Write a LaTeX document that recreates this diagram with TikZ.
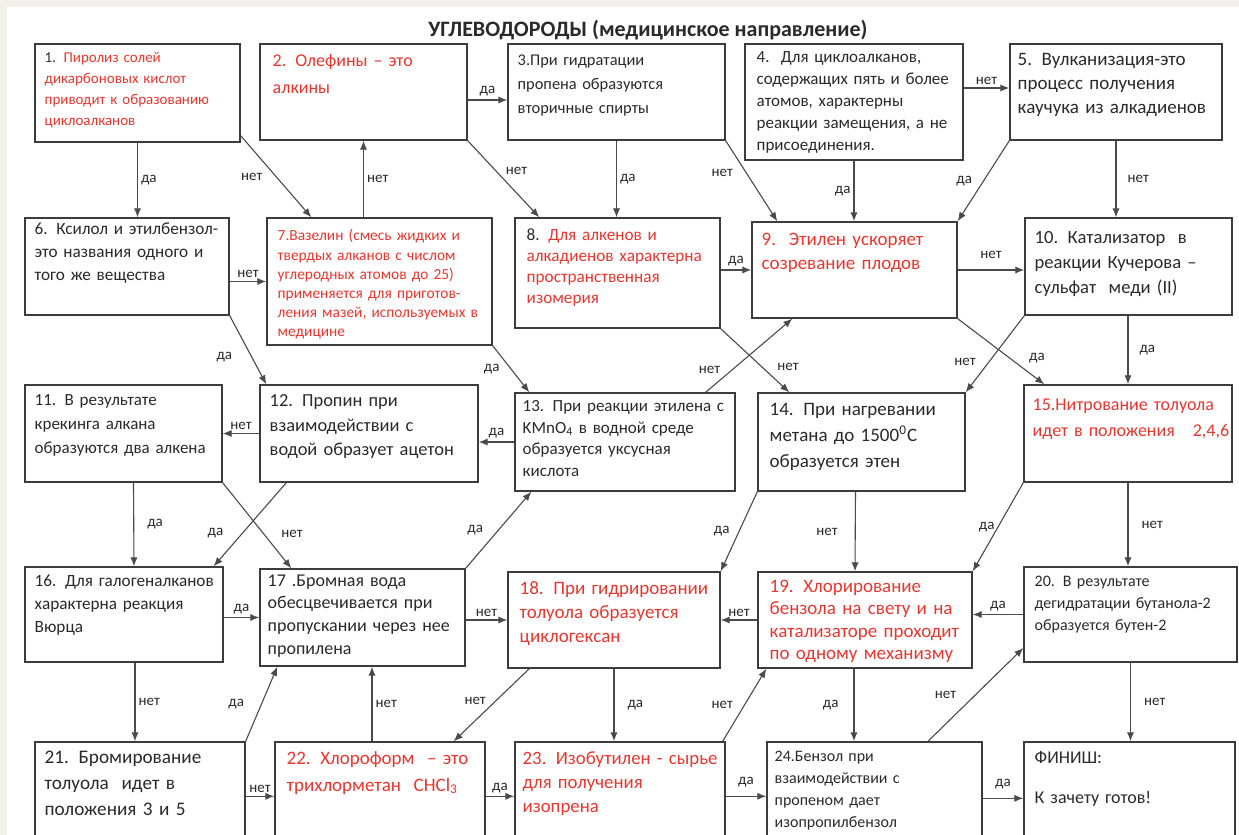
\documentclass[tikz,border=0pt]{standalone}
\usepackage{fontspec}
\setmainfont{Carlito}
\usetikzlibrary{calc,positioning,arrows.meta,fit}
\definecolor{ink}{HTML}{2A2A2A}
\definecolor{redt}{HTML}{E8372F}
\definecolor{linec}{HTML}{3C3C3C}
\definecolor{arrc}{HTML}{4A4A4A}
\definecolor{paper}{HTML}{F2F0EB}
\newcommand{\tfs}[2]{\fontsize{#1}{#2}\selectfont}

\begin{document}
\begin{tikzpicture}[x=0.5pt,y=-0.5pt,
  box/.style={draw=linec,line width=0.7pt,inner sep=0pt,fill=white},
  txt/.style={anchor=north west,inner sep=0pt,align=left,text width=118pt,text=ink},
  rd/.style={text=redt},
  arr/.style={draw=arrc,line width=0.55pt,-{Latex[length=4.5pt,width=3.6pt]}},
  lbl/.style={font=\tfs{7.5}{9},text=ink,inner sep=1.5pt}]
\useasboundingbox (0,0) rectangle (1239,835);
\clip (0,0) rectangle (1239,835);
\fill[paper] (0,0) rectangle (1239,835);
\fill[white] (7,7) rectangle (1239,835);

\node[font=\tfs{11}{13}\bfseries,text=ink] (title) at (648,30) {УГЛЕВОДОРОДЫ (медицинское направление)};

% boxes
\node[box,fit={(35,44)(240,142)}] (q1) {};
\node[box,fit={(260,44)(467,140)}] (q2) {};
\node[box,fit={(508,44)(725,140)}] (q3) {};
\node[box,fit={(745,44)(963,160)}] (q4) {};
\node[box,fit={(1010,44)(1222,140)}] (q5) {};

\node[box,fit={(25,218)(229,315)}] (q6) {};
\node[box,fit={(267,218)(492,345)}] (q7) {};
\node[box,fit={(515,218)(720,328)}] (q8) {};
\node[box,fit={(752,222)(957,318)}] (q9) {};
\node[box,fit={(1025,218)(1232,315)}] (q10) {};

\node[box,fit={(25,385)(222,482)}] (q11) {};
\node[box,fit={(260,385)(478,482)}] (q12) {};
\node[box,fit={(515,393)(735,491)}] (q13) {};
\node[box,fit={(758,393)(965,491)}] (q14) {};
\node[box,fit={(1024,385)(1232,482)}] (q15) {};

\node[box,fit={(25,567)(223,662)}] (q16) {};
\node[box,fit={(260,569)(465,666)}] (q17) {};
\node[box,fit={(508,572)(720,668)}] (q18) {};
\node[box,fit={(758,572)(972,668)}] (q19) {};
\node[box,fit={(1024,567)(1237,662)}] (q20) {};

\node[box,fit={(35,742)(245,880)}] (q21) {};
\node[box,fit={(275,742)(485,880)}] (q22) {};
\node[box,fit={(515,742)(725,880)}] (q23) {};
\node[box,fit={(767,742)(982,880)}] (q24) {};
\node[box,fit={(1024,742)(1235,880)}] (qf) {};

% texts
\node[txt,font=\tfs{7.5}{10.5}] (t1) at ($(q1.north west)+(10,9)$) {1. \color{redt}Пиролиз солей\\дикарбоновых кислот\\приводит к образованию\\циклоалканов};
\node[txt,rd,font=\tfs{9}{13.5}] (t2) at ($(q2.north west)+(13,11)$) {2. Олефины – это\\алкины};
\node[txt,font=\tfs{8.2}{12}] (t3) at ($(q3.north west)+(10,11)$) {3.При гидратации\\пропена образуются\\вторичные спирты};
\node[txt,font=\tfs{8.5}{11}] (t4) at ($(q4.north west)+(12,8)$) {4.\ \ Для циклоалканов,\\содержащих пять и более\\атомов, характерны\\реакции замещения, а не\\присоединения.};
\node[txt,font=\tfs{9.5}{12}] (t5) at ($(q5.north west)+(8,10)$) {5. Вулканизация-это\\процесс получения\\каучука из алкадиенов};

\node[txt,font=\tfs{8.6}{11.5}] (t6) at ($(q6.north west)+(10,5)$) {6. Ксилол и этилбензол-\\это названия одного и\\того же вещества};
\node[txt,rd,font=\tfs{7.7}{9.6}] (t7) at ($(q7.north west)+(11,12)$) {7.Вазелин (смесь жидких и\\твердых алканов с числом\\углеродных атомов до 25)\\применяется для приготов-\\ления мазей, используемых в\\медицине};
\node[txt,font=\tfs{8.6}{10.5}] (t8) at ($(q8.north west)+(12,11)$) {8. \color{redt}Для алкенов и\\алкадиенов характерна\\пространственная\\изомерия};
\node[txt,rd,font=\tfs{9.5}{12}] (t9) at ($(q9.north west)+(10,11)$) {9.\ \ Этилен ускоряет\\созревание плодов};
\node[txt,font=\tfs{9.3}{12.5}] (t10) at ($(q10.north west)+(10,14)$) {10. Катализатор\ \ в\\реакции Кучерова –\\сульфат\ \ меди (II)};

\node[txt,font=\tfs{8.5}{12}] (t11) at ($(q11.north west)+(10,10)$) {11. В результате\\крекинга алкана\\образуются два алкена};
\node[txt,font=\tfs{9.2}{12.2}] (t12) at ($(q12.north west)+(10,10)$) {12. Пропин при\\взаимодействии с\\водой образует ацетон};
\node[txt,font=\tfs{8.5}{10.8}] (t13) at ($(q13.north west)+(8,8)$) {13. При реакции этилена с\\KMnO\textsubscript{4} в водной среде\\образуется уксусная\\кислота};
\node[txt,font=\tfs{9.5}{13}] (t14) at ($(q14.north west)+(12,11)$) {14. При нагревании\\метана до 1500\textsuperscript{0}С\\образуется этен};
\node[txt,rd,font=\tfs{9}{13}] (t15) at ($(q15.north west)+(9,14)$) {15.Нитрование толуола\\идет в положения\ \ \ 2,4,6};

\node[txt,font=\tfs{8.6}{11.5}] (t16) at ($(q16.north west)+(10,8)$) {16. Для галогеналканов\\характерна реакция\\Вюрца};
\node[txt,font=\tfs{9}{11.3}] (t17) at ($(q17.north west)+(8,6)$) {17 .Бромная вода\\обесцвечивается при\\пропускании через нее\\пропилена};
\node[txt,rd,font=\tfs{9.5}{12}] (t18) at ($(q18.north west)+(12,10)$) {18. При гидрировании\\толуола образуется\\циклогексан};
\node[txt,rd,font=\tfs{9.5}{11.3}] (t19) at ($(q19.north west)+(12,8)$) {19. Хлорирование\\бензола на свету и на\\катализаторе проходит\\по одному механизму};
\node[txt,font=\tfs{8}{11}] (t20) at ($(q20.north west)+(11,9)$) {20. В результате\\дегидратации бутанола-2\\образуется бутен-2};

\node[txt,font=\tfs{9.6}{13.2}] (t21) at ($(q21.north west)+(10,9)$) {21. Бромирование\\толуола\ \ идет в\\положения 3 и 5};
\node[txt,rd,font=\tfs{9.5}{13.5}] (t22) at ($(q22.north west)+(12,10)$) {22. Хлороформ\ \ – это\\трихлорметан\ \ CHCl\textsubscript{3}};
\node[txt,rd,font=\tfs{9.4}{12}] (t23) at ($(q23.north west)+(8,10)$) {23. Изобутилен - сырье\\для получения\\изопрена};
\node[txt,font=\tfs{8}{11}] (t24) at ($(q24.north west)+(8,9)$) {24.Бензол при\\взаимодействии с\\пропеном дает\\изопропилбензол};
\node[txt,font=\tfs{9}{11}] (tf) at ($(qf.north west)+(11,10)$) {ФИНИШ:\\[9pt]К зачету готов!};

% row 1
\draw[arr] ($(q2.east)+(0,8)$) -- ($(q3.west)+(0,8)$) node[lbl,midway,above]{да};
\draw[arr] ($(q4.east)+(0,-14)$) -- ($(q5.west)+(0,-4)$) node[lbl,midway,above]{нет};
\draw[arr] (q1.south) -- (q1.south |- q6.north) node[lbl,midway,right]{да};
\draw[arr] ($(q1.south east)+(0,-7)$) -- ($(q7.north west)+(45,0)$) node[lbl,midway,left=5pt]{нет};
\draw[arr] (q2.south |- q7.north) -- (q2.south) node[lbl,midway,right]{нет};
\draw[arr] (q2.south east) -- ($(q8.north west)+(25,0)$) node[lbl,pos=.4,right=3pt]{нет};
\draw[arr] (q3.south) -- (q3.south |- q8.north) node[lbl,midway,right]{да};
\draw[arr] (q3.south east) -- ($(q9.north west)+(26,0)$) node[lbl,pos=.4,left=5pt]{нет};
\draw[arr] (q4.south) -- (q4.south |- q9.north) node[lbl,midway,left]{да};
\draw[arr] (q5.south west) -- (q9.north east) node[lbl,midway,left=4pt]{да};
\draw[arr] (q5.south) -- (q5.south |- q10.north) node[lbl,midway,right=4pt]{нет};

% row 2
\draw[arr] (q7.west -| q6.east) -- (q7.west) node[lbl,midway,above]{нет};
\draw[arr] (q9.west -| q8.east) -- (q9.west) node[lbl,midway,above]{да};
\draw[arr] (q9.east) -- (q9.east -| q10.west) node[lbl,midway,above=4pt]{нет};
\draw[arr] (q6.south east) -- ($(q12.north west)+(7,0)$) node[lbl,pos=.6,left=8pt]{да};
\draw[arr] (q7.south east) -- ($(q13.north west)+(15,0)$) node[lbl,midway,left=4pt]{да};
\draw[arr] ($(q13.north east)+(-30,0)$) -- ($(q9.south west)+(41,0)$) node[lbl,pos=.3,left=4pt]{нет};
\draw[arr] (q8.south east) -- ($(q14.north west)+(32,0)$) node[lbl,pos=.6,right=6pt]{нет};
\draw[arr] (q10.south west) -- (q14.north east) node[lbl,pos=.6,left=5pt]{нет};
\draw[arr] (q9.south east) -- ($(q15.north west)+(21,0)$) node[lbl,pos=.6,right=8pt]{да};
\draw[arr] (q15.north |- q10.south) -- (q15.north) node[lbl,midway,right=4pt]{да};

% row 3
\draw[arr] (q12.west) -- (q11.east) node[lbl,midway,above]{нет};
\draw[arr] (q13.west) -- (q13.west -| q12.east) node[lbl,midway,above]{да};
\draw[arr] ($(q11.south)+(10,0)$) -- ($(q16.north)+(10,0)$) node[lbl,midway,right=5pt]{да};
\draw[arr] ($(q12.south west)+(27,0)$) -- ($(q16.north east)+(-10,0)$) node[lbl,pos=.6,left=8pt]{да};
\draw[arr] (q11.south east) -- ($(q17.north west)+(32,0)$) node[lbl,pos=.6,right=7pt]{нет};
\draw[arr] ($(q14.south)+(-6,0)$) -- ($(q19.north)+(-10,0)$) node[lbl,midway,left=7pt]{нет};
\draw[arr] (q14.south west) -- (q18.north east) node[lbl,midway,left=3pt]{да};
\draw[arr] (q15.south west) -- (q19.north east) node[lbl,midway,left=0pt]{да};
\draw[arr] (q15.south) -- (q15.south |- q20.north) node[lbl,midway,right=5pt]{нет};
\draw[arr] (q17.north east) -- ($(q13.south west)+(17,0)$) node[lbl,midway,left=6pt]{да};

% row 4
\draw[arr] (q17.west -| q16.east) -- (q17.west) node[lbl,midway,above]{да};
\draw[arr] (q18.west -| q17.east) -- (q18.west) node[lbl,midway,above]{нет};
\draw[arr] (q19.west) -- (q18.east) node[lbl,midway,above]{нет};
\draw[arr] (q20.west) -- (q20.west -| q19.east) node[lbl,midway,above]{да};
\draw[arr] ($(q16.south)+(11,0)$) -- ($(q21.north)+(-5,0)$) node[lbl,midway,right]{нет};
\draw[arr] (q21.north east) -- ($(q17.south west)+(18,0)$) node[lbl,midway,left=7pt]{да};
\draw[arr] ($(q22.north)+(-8,0)$) -- ($(q17.south)+(9.5,0)$) node[lbl,midway,right]{нет};
\draw[arr] ($(q18.south west)+(22,0)$) -- ($(q22.north east)+(-32,0)$) node[lbl,pos=.45,left=3pt]{нет};
\draw[arr] (q18.south) -- (q18.south |- q23.north) node[lbl,midway,right=5pt]{да};
\draw[arr] ($(q23.north east)+(-3,0)$) -- ($(q19.south west)+(9,0)$) node[lbl,midway,left=4pt]{нет};
\draw[arr] ($(q19.south)+(-11,0)$) -- ($(q24.north)+(-20.5,0)$) node[lbl,midway,left=6pt]{да};
\draw[arr] ($(q24.north)+(53.5,0)$) -- ($(q20.west)+(0,33.5)$) node[lbl,midway,left=8pt]{нет};
\draw[arr] (q20.south) -- (q20.south |- qf.north) node[lbl,midway,right=5pt]{нет};

% row 5
\draw[arr] ($(q21.north east)+(0,55)$) -- ($(q22.north west)+(0,55)$) node[lbl,midway,above]{нет};
\draw[arr] ($(q22.north east)+(0,55)$) -- ($(q23.north west)+(0,55)$) node[lbl,midway,above]{да};
\draw[arr] ($(q23.north east)+(0,55)$) -- ($(q24.north west)+(0,55)$) node[lbl,midway,above=3pt]{да};
\draw[arr] ($(q24.north east)+(0,57)$) -- ($(qf.north west)+(0,57)$) node[lbl,midway,above=3pt]{да};
\end{tikzpicture}
\end{document}
